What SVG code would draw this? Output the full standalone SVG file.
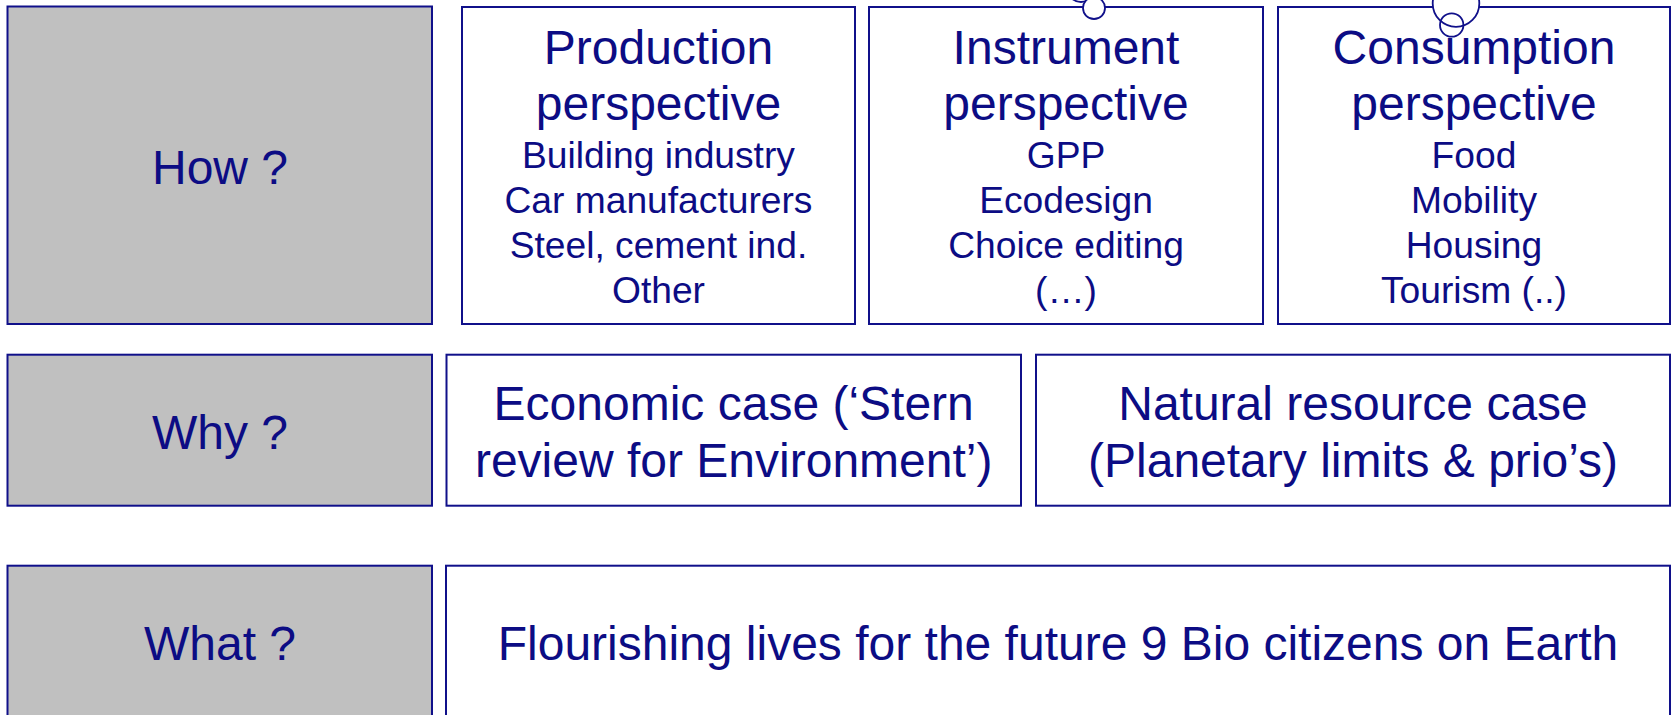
<svg xmlns="http://www.w3.org/2000/svg" width="1671" height="715" viewBox="0 0 1671 715">
<style>
.box{fill:#ffffff;stroke:#10108a;stroke-width:2}
.hdr{fill:#c0c0c0;stroke:#10108a;stroke-width:2}
text{font-family:"Liberation Sans",Arial,sans-serif;fill:#0c0c84;text-anchor:middle}
.big{font-size:48px}
.sm{font-size:37.2px}
.c{fill:none;stroke:#10108a;stroke-width:1.8}
.cw{fill:#ffffff;stroke:#10108a;stroke-width:1.8}
</style>
<rect width="1671" height="715" fill="#ffffff"/>
<g id="how">
<rect class="hdr" x="7.5" y="6.5" width="424.5" height="317.5"/>
<text class="big" x="220" y="184">How ?</text>
</g>
<g id="production">
<rect class="box" x="462" y="7" width="393" height="317"/>
<text class="big" x="658.5" y="64">Production</text>
<text class="big" x="658.5" y="120">perspective</text>
<text class="sm" x="658.5" y="168">Building industry</text>
<text class="sm" x="658.5" y="213">Car manufacturers</text>
<text class="sm" x="658.5" y="258">Steel, cement ind.</text>
<text class="sm" x="658.5" y="303">Other</text>
</g>
<g id="instrument">
<rect class="box" x="869" y="7" width="394" height="317"/>
<text class="big" x="1066" y="64">Instrument</text>
<text class="big" x="1066" y="120">perspective</text>
<text class="sm" x="1066" y="168">GPP</text>
<text class="sm" x="1066" y="213">Ecodesign</text>
<text class="sm" x="1066" y="258">Choice editing</text>
<text class="sm" x="1066" y="303">(…)</text>
<circle class="c" cx="1081" cy="-12" r="14"/>
<circle class="cw" cx="1094" cy="8" r="11"/>
</g>
<g id="consumption">
<rect class="box" x="1278" y="7" width="392" height="317"/>
<circle class="cw" cx="1456" cy="3.5" r="23.3"/>
<text class="big" x="1474" y="64">Consumption</text>
<text class="big" x="1474" y="120">perspective</text>
<text class="sm" x="1474" y="168">Food</text>
<text class="sm" x="1474" y="213">Mobility</text>
<text class="sm" x="1474" y="258">Housing</text>
<text class="sm" x="1474" y="303">Tourism (..)</text>
<circle class="c" cx="1451.7" cy="25" r="11.7"/>
</g>
<g id="why">
<rect class="hdr" x="7.5" y="354.7" width="424.5" height="151"/>
<text class="big" x="220" y="449">Why ?</text>
</g>
<g id="economic">
<rect class="box" x="446.5" y="354.7" width="574.5" height="151"/>
<text class="big" x="733.7" y="420">Economic case (‘Stern</text>
<text class="big" x="733.7" y="477">review for Environment’)</text>
</g>
<g id="natural">
<rect class="box" x="1036" y="354.7" width="634" height="151"/>
<text class="big" x="1353" y="420">Natural resource case</text>
<text class="big" x="1353" y="477">(Planetary limits &amp; prio’s)</text>
</g>
<g id="what">
<rect class="hdr" x="7.5" y="565.7" width="424.5" height="160"/>
<text class="big" x="220" y="660">What ?</text>
</g>
<g id="flourishing">
<rect class="box" x="446" y="565.7" width="1224" height="160"/>
<text class="big" x="1058" y="660">Flourishing lives for the future 9 Bio citizens on Earth</text>
</g>
<g id="connectors"></g>
</svg>
